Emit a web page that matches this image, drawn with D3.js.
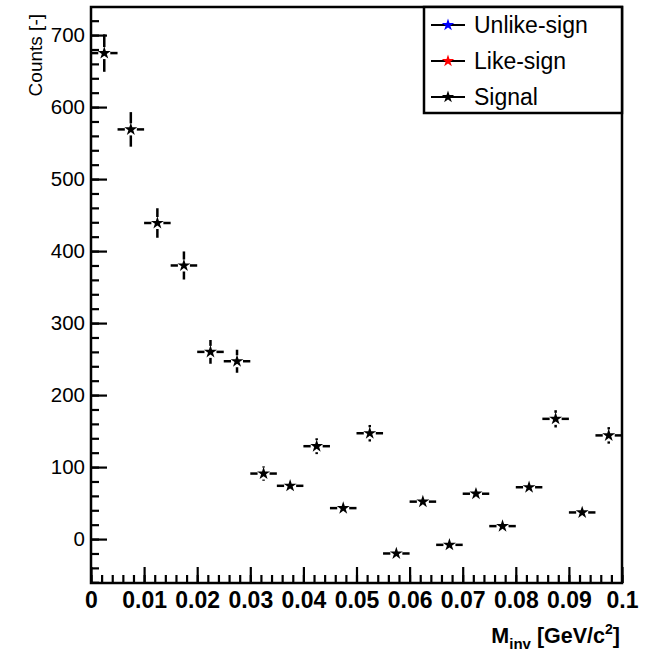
<!DOCTYPE html>
<html>
<head>
<meta charset="utf-8">
<script src="https://cdn.jsdelivr.net/npm/d3@7"></script>
<style>
  html, body { margin: 0; padding: 0; background: #fff; }
  svg { display: block; }
  text { font-family: "Liberation Sans", Arial, Helvetica, sans-serif; fill: #000; }
</style>
</head>
<body>
<svg id="chart" width="647" height="655"></svg>
<script>
// ---- data ----
const binCenters = [0.0025, 0.0075, 0.0125, 0.0175, 0.0225, 0.0275, 0.0325, 0.0375, 0.0425, 0.0475,
                    0.0525, 0.0575, 0.0625, 0.0675, 0.0725, 0.0775, 0.0825, 0.0875, 0.0925, 0.0975];
const binHalfWidth = 0.0025;
const signalCounts = [675, 569, 439, 380, 260, 247, 91, 74, 129, 43,
                      147, -20, 52, -8, 63, 18, 72, 167, 37, 144];
const signalErrors = [26, 24, 20.5, 19.5, 16.5, 16, 10, 8, 11, 7,
                      11.5, 7, 8, 7, 8, 7, 8, 12, 8, 11.5];
const xTickValues = [0, 0.01, 0.02, 0.03, 0.04, 0.05, 0.06, 0.07, 0.08, 0.09, 0.1];
const xTickLabels = ["0", "0.01", "0.02", "0.03", "0.04", "0.05", "0.06", "0.07", "0.08", "0.09", "0.1"];
const yTickValues = [0, 100, 200, 300, 400, 500, 600, 700];
const yTickLabels = ["0", "100", "200", "300", "400", "500", "600", "700"];
const legendLabels = ["Unlike-sign", "Like-sign", "Signal"];
const legendColors = ["#0000ff", "#ff0000", "#000000"];

(function () {
// ---- layout ----
const svg = d3.select("#chart");
const pLeft = 91, pRight = 622, pTop = 7, pBottom = 583;
const x = d3.scaleLinear().domain([0, 0.1]).range([pLeft, pRight]);
const y = d3.scaleLinear().domain([-61, 739]).range([pBottom, pTop]);

// minor ticks
const xMinor = d3.range(0, 0.1001, 0.002).map(v => +v.toFixed(4));
const yMinor = d3.range(-60, 739, 20);

// frame
svg.append("rect")
  .attr("x", pLeft).attr("y", pTop)
  .attr("width", pRight - pLeft).attr("height", pBottom - pTop)
  .attr("fill", "none").attr("stroke", "#000").attr("stroke-width", 2.5);

const gxMinor = svg.append("g").attr("transform", `translate(0,${pBottom})`)
  .call(d3.axisBottom(x).tickValues(xMinor).tickSize(-8).tickFormat(""));
const gx = svg.append("g").attr("transform", `translate(0,${pBottom})`)
  .call(d3.axisBottom(x).tickValues(xTickValues).tickSize(-16).tickPadding(9)
        .tickFormat((d, i) => xTickLabels[i]));
const gyMinor = svg.append("g").attr("transform", `translate(${pLeft},0)`)
  .call(d3.axisLeft(y).tickValues(yMinor).tickSize(-8).tickFormat(""));
const gy = svg.append("g").attr("transform", `translate(${pLeft},0)`)
  .call(d3.axisLeft(y).tickValues(yTickValues).tickSize(-16).tickPadding(6)
        .tickFormat((d, i) => yTickLabels[i]));

[gxMinor, gx, gyMinor, gy].forEach(g => {
  g.select(".domain").remove();
  g.selectAll(".tick line").attr("stroke", "#000").attr("stroke-width", 2.2);
});
gx.selectAll(".tick text").style("font-family", "'Liberation Sans', Arial, sans-serif")
  .style("font-size", "23px").style("font-weight", "bold").attr("fill", "#000");
gy.selectAll(".tick text").style("font-family", "'Liberation Sans', Arial, sans-serif")
  .style("font-size", "20.5px").attr("fill", "#000");

// axis titles
const xt = svg.append("text")
  .attr("x", 620).attr("y", 643)
  .attr("text-anchor", "end")
  .style("font-size", "21.5px").style("font-weight", "bold");
xt.append("tspan").text("M");
xt.append("tspan").attr("dy", 6).style("font-size", "15px").text("inv");
xt.append("tspan").attr("dy", -6).text(" [GeV/c");
xt.append("tspan").attr("dy", -9).style("font-size", "14px").text("2");
xt.append("tspan").attr("dy", 9).text("]");

svg.append("text")
  .attr("transform", "translate(42,14) rotate(-90)")
  .attr("text-anchor", "end")
  .style("font-size", "19px")
  .text("Counts [-]");

// data points with error bars
const gap = 6;
const pts = svg.append("g");
binCenters.forEach((c, i) => {
  const cx = x(c), cy = y(signalCounts[i]);
  const x0 = x(c - binHalfWidth), x1 = x(c + binHalfWidth);
  const yTop = y(signalCounts[i] + signalErrors[i]);
  const yBot = y(signalCounts[i] - signalErrors[i]);
  const segs = [[x0, cy, cx - gap, cy], [cx + gap, cy, x1, cy]];
  if (cy - yTop > gap) {
    segs.push([cx, yTop, cx, cy - gap]);
    segs.push([cx, cy + gap, cx, yBot]);
  }
  segs.forEach(s => {
    pts.append("line")
      .attr("x1", s[0]).attr("y1", s[1]).attr("x2", s[2]).attr("y2", s[3])
      .attr("stroke", "#000").attr("stroke-width", 2.5);
  });
  pts.append("path")
    .attr("d", d3.symbol(d3.symbolStar, 52)())
    .attr("transform", `translate(${cx},${cy})`)
    .attr("fill", "#000");
});

// legend
const lg = svg.append("g");
lg.append("rect")
  .attr("x", 424).attr("y", pTop).attr("width", pRight - 424).attr("height", 113 - pTop)
  .attr("fill", "#fff").attr("stroke", "#000").attr("stroke-width", 2.5);
legendLabels.forEach((lab, i) => {
  const ry = 25 + i * 36;
  lg.append("line").attr("x1", 431).attr("x2", 465).attr("y1", ry).attr("y2", ry)
    .attr("stroke", "#000").attr("stroke-width", 2.2);
  lg.append("path")
    .attr("d", d3.symbol(d3.symbolStar, 48)())
    .attr("transform", `translate(448,${ry})`)
    .attr("fill", legendColors[i]);
  lg.append("text").attr("x", 474).attr("y", ry).attr("dy", "0.36em")
    .style("font-size", "23px").text(lab);
});
})();
</script>
</body>
</html>
